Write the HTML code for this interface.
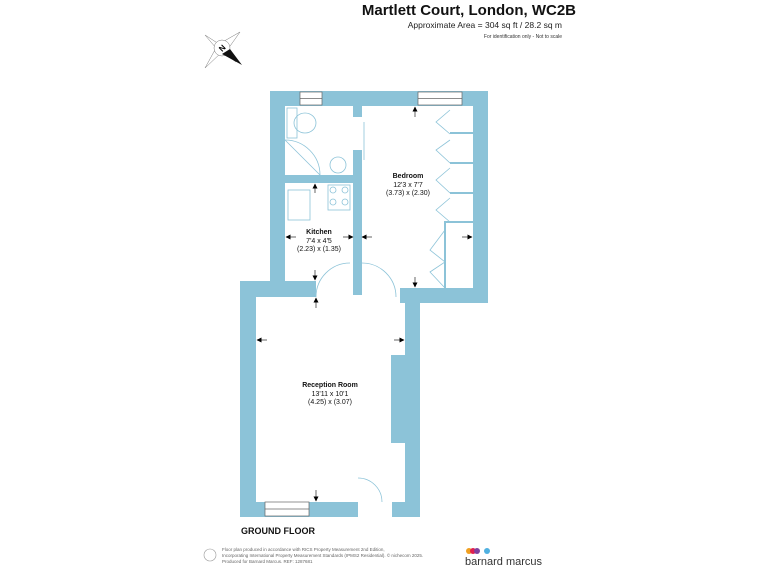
<!DOCTYPE html>
<html><head><style>
html,body{margin:0;padding:0;background:#fff;}
body{width:768px;height:576px;overflow:hidden;position:relative;font-family:"Liberation Sans",Arial,sans-serif;}
</style></head><body>
<svg width="768" height="576" viewBox="0 0 768 576" xmlns="http://www.w3.org/2000/svg" font-family="Liberation Sans, Arial, sans-serif">
<defs>
<marker id="ah" markerWidth="5" markerHeight="5" refX="4.5" refY="2.5" orient="auto" markerUnits="userSpaceOnUse"><path d="M0,0 L5,2.5 L0,5 z" fill="#000"/></marker>
</defs>
<text x="576" y="15" text-anchor="end" font-size="15" font-weight="bold" fill="#111">Martlett Court, London, WC2B</text>
<text x="562" y="28" text-anchor="end" font-size="8.5" fill="#222">Approximate Area = 304 sq ft / 28.2 sq m</text>
<text x="562" y="38" text-anchor="end" font-size="5" fill="#333">For identification only - Not to scale</text>
<g stroke="#777" stroke-width="0.5" fill="none">
<polygon points="205,35 219,44 240,32 228,49 236,62 222,52 205,68 216,48"/>
<circle cx="222" cy="48" r="8" fill="#fff"/>
</g>
<polygon points="222,54 242,65 230,49" fill="#111"/>
<text x="222" y="51" font-size="8" font-weight="bold" text-anchor="middle" transform="rotate(-45 222 48)">N</text>
<g fill="#8cc3d8">
<rect x="270" y="91" width="218" height="15"/>
<rect x="270" y="91" width="15" height="206"/>
<rect x="473" y="91" width="15" height="212"/>
<rect x="400" y="288" width="88" height="15"/>
<rect x="353" y="106" width="9" height="11"/>
<rect x="353" y="150" width="9" height="145"/>
<rect x="285" y="175" width="68" height="8"/>
<rect x="240" y="281" width="76" height="16"/>
<rect x="240" y="281" width="16" height="236"/>
<rect x="240" y="502" width="118" height="15"/>
<rect x="392" y="502" width="28" height="15"/>
<rect x="405" y="288" width="15" height="229"/>
<rect x="391" y="355" width="14" height="88"/>
</g>
<g fill="#fff" stroke="#666" stroke-width="0.7">
<rect x="300" y="92" width="22" height="13"/><line x1="300" y1="98.5" x2="322" y2="98.5"/>
<rect x="418" y="92" width="44" height="13"/><line x1="418" y1="98.5" x2="462" y2="98.5"/>
<rect x="265" y="502" width="44" height="14"/><line x1="265" y1="509" x2="309" y2="509"/>
</g>
<g fill="none" stroke="#8cc3d8" stroke-width="0.8">
<rect x="287" y="108" width="10" height="30"/>
<ellipse cx="305" cy="123" rx="11" ry="10"/>
<path d="M285,140 A35,35 0 0 1 320,175"/>
<line x1="285" y1="140" x2="320" y2="175"/>
<circle cx="338" cy="165" r="8"/>
<line x1="364" y1="122" x2="364" y2="160"/>
<rect x="288" y="190" width="22" height="30"/>
<rect x="328" y="185" width="22" height="25"/>
<circle cx="333" cy="190" r="3"/><circle cx="345" cy="190" r="3"/><circle cx="333" cy="202" r="3"/><circle cx="345" cy="202" r="3"/>
<path d="M316,297 A34,34 0 0 1 350,263"/>
<path d="M362,263 A34,34 0 0 1 396,297"/>
<path d="M358,478 A24,24 0 0 1 382,502"/>
<path d="M450,110 L436,122 L450,134 M450,140 L436,150 L450,163 M450,168 L436,180 L450,193 M450,198 L436,210 L450,222"/>
<path d="M445,230 L430,250 L445,262 L430,272 L445,288"/>
</g>
<g fill="#8cc3d8">
<rect x="450" y="132" width="23" height="2"/><rect x="450" y="162" width="23" height="2"/><rect x="450" y="192" width="23" height="2"/>
<rect x="445" y="221" width="28" height="2"/><rect x="444" y="221" width="2" height="67"/>
</g>
<g stroke="#000" stroke-width="0.6" marker-end="url(#ah)">
<line x1="415" y1="117" x2="415" y2="107"/>
<line x1="415" y1="277" x2="415" y2="287"/>
<line x1="462" y1="237" x2="472" y2="237"/>
<line x1="372" y1="237" x2="362" y2="237"/>
<line x1="343" y1="237" x2="353" y2="237"/>
<line x1="296" y1="237" x2="286" y2="237"/>
<line x1="315" y1="193" x2="315" y2="184"/>
<line x1="315" y1="270" x2="315" y2="280"/>
<line x1="316" y1="308" x2="316" y2="298"/>
<line x1="267" y1="340" x2="257" y2="340"/>
<line x1="394" y1="340" x2="404" y2="340"/>
<line x1="316" y1="490" x2="316" y2="501"/>
</g>
<g text-anchor="middle" fill="#111">
<text x="408" y="178" font-size="7" font-weight="bold">Bedroom</text>
<text x="408" y="187" font-size="7">12'3 x 7'7</text>
<text x="408" y="195" font-size="7">(3.73) x (2.30)</text>
<text x="319" y="234" font-size="7" font-weight="bold">Kitchen</text>
<text x="319" y="243" font-size="7">7'4 x 4'5</text>
<text x="319" y="251" font-size="7">(2.23) x (1.35)</text>
<text x="330" y="387" font-size="7" font-weight="bold">Reception Room</text>
<text x="330" y="396" font-size="7">13'11 x 10'1</text>
<text x="330" y="404" font-size="7">(4.25) x (3.07)</text>
</g>
<text x="241" y="534" font-size="9" font-weight="bold" fill="#111">GROUND FLOOR</text>
<circle cx="210" cy="555" r="6" fill="none" stroke="#999" stroke-width="0.6"/>
<g font-size="4.5" fill="#666">
<text x="222" y="551">Floor plan produced in accordance with RICS Property Measurement 2nd Edition,</text>
<text x="222" y="557">Incorporating International Property Measurement Standards (IPMS2 Residential).   © nichecom 2025.</text>
<text x="222" y="563">Produced for Barnard Marcus.   REF: 1287681</text>
</g>
<circle cx="469" cy="551" r="3" fill="#f0a020"/><circle cx="473" cy="551" r="3" fill="#e02050"/><circle cx="477" cy="551" r="3" fill="#8040a0"/><circle cx="487" cy="551" r="3" fill="#4fb0e0"/>
<text x="465" y="565" font-size="11" fill="#333">barnard marcus</text>
</svg>
</body></html>
